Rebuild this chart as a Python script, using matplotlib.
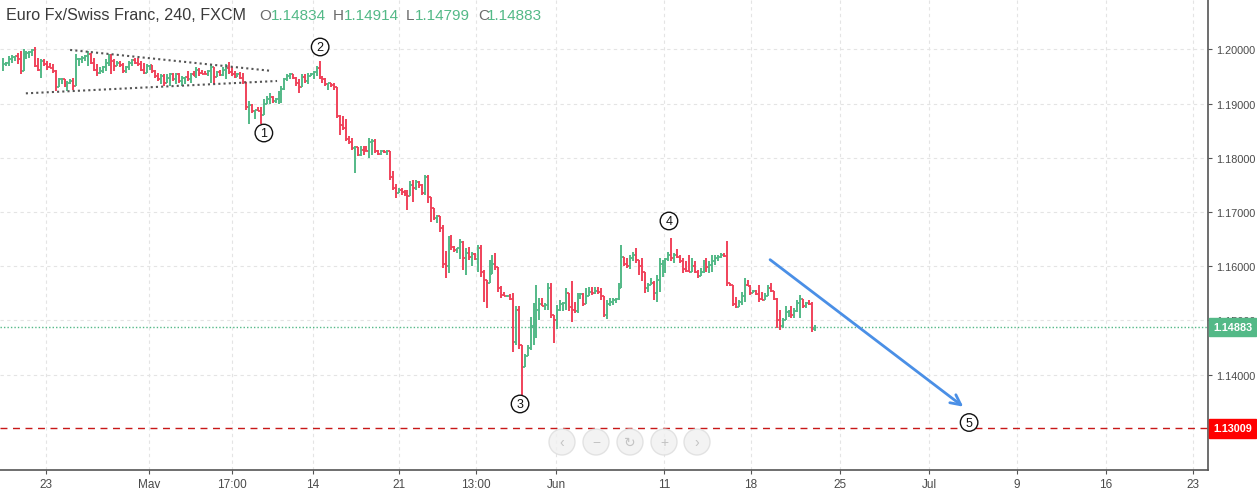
import numpy as np
import matplotlib.pyplot as plt
from matplotlib.patches import Ellipse

# EUR/CHF 4h bars (FXCM)
first_open = 1.1962
highs = [
    1.1985, 1.1977, 1.1988, 1.1989, 1.1988, 1.1994, 1.1997, 1.2000, 1.1997, 1.1997,
    1.2000, 1.2004, 1.1985, 1.1982, 1.1982, 1.1979, 1.1976, 1.1973, 1.1963, 1.1948,
    1.1948, 1.1946, 1.1942, 1.1945, 1.1948, 1.1991, 1.1985, 1.1988, 1.1989, 1.1997,
    1.1994, 1.1985, 1.1973, 1.1967, 1.1970, 1.1982, 1.1991, 1.1991, 1.1982, 1.1979,
    1.1979, 1.1976, 1.1970, 1.1979, 1.1982, 1.1985, 1.1985, 1.1979, 1.1976, 1.1973,
    1.1971, 1.1971, 1.1963, 1.1957, 1.1954, 1.1954, 1.1954, 1.1957, 1.1957, 1.1957,
    1.1957, 1.1951, 1.1950, 1.1960, 1.1957, 1.1960, 1.1967, 1.1965,
    1.1962, 1.1960, 1.1963, 1.1973, 1.1960, 1.1960, 1.1963, 1.1967, 1.1973, 1.1977,
    1.1967, 1.1960, 1.1957, 1.1958, 1.1957, 1.1936, 1.1905, 1.1899, 1.1889, 1.1893,
    1.1893, 1.1908, 1.1914, 1.1920, 1.1914, 1.1911, 1.1923, 1.1933, 1.1948, 1.1955,
    1.1957, 1.1954, 1.1950, 1.1946, 1.1954, 1.1955, 1.1957, 1.1957, 1.1960, 1.1970,
    1.1979, 1.1951, 1.1948, 1.1939, 1.1939, 1.1939, 1.1930, 1.1880, 1.1877, 1.1871,
    1.1840, 1.1837, 1.1822, 1.1809, 1.1822, 1.1822, 1.1822, 1.1837, 1.1834, 1.1834,
    1.1815, 1.1815, 1.1815, 1.1815, 1.1812, 1.1775, 1.1751, 1.1744, 1.1744, 1.1741,
    1.1741, 1.1757,
    1.1760, 1.1760, 1.1757, 1.1751, 1.1769, 1.1769, 1.1728, 1.1706, 1.1695, 1.1692,
    1.1677, 1.1629, 1.1655, 1.1658, 1.1638, 1.1634, 1.1651, 1.1646, 1.1634, 1.1635,
    1.1627, 1.1624, 1.1640, 1.1640, 1.1594, 1.1575, 1.1612, 1.1621, 1.1624, 1.1598,
    1.1563, 1.1553, 1.1547, 1.1549, 1.1550, 1.1526, 1.1527, 1.1455, 1.1439, 1.1455,
    1.1507, 1.1532, 1.1566, 1.1541, 1.1541, 1.1532, 1.1569, 1.1569, 1.1510, 1.1529,
    1.1538, 1.1535, 1.1560, 1.1547, 1.1572, 1.1535, 1.1550, 1.1550, 1.1550, 1.1560,
    1.1561, 1.1561, 1.1561, 1.1561, 1.1560, 1.1545, 1.1538, 1.1541, 1.1542, 1.1541,
    1.1569, 1.1640, 1.1618, 1.1615, 1.1621, 1.1627, 1.1634, 1.1612, 1.1615, 1.1590,
    1.1569, 1.1578, 1.1572, 1.1584, 1.1615, 1.1612, 1.1615, 1.1627, 1.1652, 1.1624,
    1.1631, 1.1621, 1.1615, 1.1609, 1.1621, 1.1615, 1.1609, 1.1594, 1.1597, 1.1612,
    1.1615, 1.1609, 1.1621, 1.1621, 1.1621, 1.1624, 1.1624, 1.1646, 1.1569, 1.1566,
    1.1544, 1.1538, 1.1553, 1.1578, 1.1575, 1.1566, 1.1556, 1.1556, 1.1566, 1.1553,
    1.1550, 1.1566, 1.1569, 1.1555, 1.1541, 1.1520, 1.1504, 1.1526, 1.1520, 1.1526,
    1.1523, 1.1538, 1.1547, 1.1540, 1.1535, 1.1538, 1.1535, 1.14914,
]
lows = [
    1.1960, 1.1970, 1.1970, 1.1975, 1.1979, 1.1973, 1.1954, 1.1963, 1.1982, 1.1985,
    1.1988, 1.1967, 1.1960, 1.1948, 1.1970, 1.1963, 1.1965, 1.1957, 1.1923, 1.1930,
    1.1936, 1.1930, 1.1923, 1.1936, 1.1926, 1.1933, 1.1970, 1.1976, 1.1979, 1.1970,
    1.1973, 1.1960, 1.1951, 1.1954, 1.1957, 1.1960, 1.1970, 1.1954, 1.1960, 1.1970,
    1.1967, 1.1957, 1.1957, 1.1963, 1.1970, 1.1973, 1.1970, 1.1960, 1.1954, 1.1957,
    1.1963, 1.1957, 1.1948, 1.1942, 1.1936, 1.1933, 1.1939, 1.1933, 1.1942, 1.1936,
    1.1939, 1.1933, 1.1936, 1.1942, 1.1939, 1.1951, 1.1948, 1.1951,
    1.1954, 1.1954, 1.1952, 1.1939, 1.1936, 1.1954, 1.1951, 1.1951, 1.1945, 1.1954,
    1.1951, 1.1948, 1.1951, 1.1945, 1.1936, 1.1889, 1.1862, 1.1883, 1.1871, 1.1886,
    1.1862, 1.1880, 1.1899, 1.1899, 1.1902, 1.1902, 1.1899, 1.1902, 1.1926, 1.1942,
    1.1945, 1.1945, 1.1933, 1.1920, 1.1939, 1.1939, 1.1936, 1.1951, 1.1945, 1.1951,
    1.1945, 1.1939, 1.1933, 1.1926, 1.1930, 1.1926, 1.1874, 1.1843, 1.1852, 1.1831,
    1.1825, 1.1815, 1.1772, 1.1803, 1.1803, 1.1806, 1.1812, 1.1800, 1.1806, 1.1809,
    1.1806, 1.1806, 1.1809, 1.1806, 1.1760, 1.1741, 1.1726, 1.1735, 1.1732, 1.1729,
    1.1704, 1.1729,
    1.1718, 1.1741, 1.1745, 1.1732, 1.1732, 1.1717, 1.1681, 1.1685, 1.1680, 1.1664,
    1.1597, 1.1578, 1.1588, 1.1630, 1.1627, 1.1624, 1.1613, 1.1594, 1.1584, 1.1612,
    1.1601, 1.1612, 1.1590, 1.1581, 1.1535, 1.1523, 1.1570, 1.1585, 1.1594, 1.1553,
    1.1541, 1.1545, 1.1543, 1.1538, 1.1442, 1.1455, 1.1448, 1.1362, 1.1415, 1.1435,
    1.1445, 1.1455, 1.1467, 1.1501, 1.1526, 1.1520, 1.1520, 1.1504, 1.1459, 1.1485,
    1.1517, 1.1517, 1.1520, 1.1517, 1.1498, 1.1514, 1.1514, 1.1539, 1.1527, 1.1532,
    1.1550, 1.1547, 1.1549, 1.1549, 1.1538, 1.1507, 1.1502, 1.1526, 1.1529, 1.1532,
    1.1537, 1.1560, 1.1600, 1.1597, 1.1595, 1.1609, 1.1606, 1.1584, 1.1572, 1.1550,
    1.1553, 1.1566, 1.1538, 1.1535, 1.1553, 1.1581, 1.1587, 1.1609, 1.1609, 1.1606,
    1.1615, 1.1606, 1.1587, 1.1590, 1.1590, 1.1590, 1.1587, 1.1578, 1.1582, 1.1587,
    1.1590, 1.1587, 1.1590, 1.1603, 1.1609, 1.1615, 1.1618, 1.1563, 1.1563, 1.1526,
    1.1523, 1.1525, 1.1529, 1.1535, 1.1563, 1.1547, 1.1550, 1.1547, 1.1535, 1.1537,
    1.1538, 1.1545, 1.1553, 1.1538, 1.1486, 1.1482, 1.1486, 1.1500, 1.1507, 1.1504,
    1.1504, 1.1516, 1.1504, 1.1523, 1.1523, 1.1529, 1.1479, 1.14799,
]
closes = [
    1.1973, 1.1976, 1.1983, 1.1987, 1.1988, 1.1982, 1.1960, 1.1991, 1.1994, 1.1996,
    1.1999, 1.1970, 1.1963, 1.1979, 1.1973, 1.1967, 1.1965, 1.1960, 1.1930, 1.1945,
    1.1946, 1.1933, 1.1939, 1.1942, 1.1933, 1.1982, 1.1983, 1.1985, 1.1988, 1.1991,
    1.1976, 1.1963, 1.1957, 1.1960, 1.1967, 1.1976, 1.1985, 1.1979, 1.1970, 1.1976,
    1.1971, 1.1960, 1.1967, 1.1975, 1.1981, 1.1976, 1.1973, 1.1963, 1.1957, 1.1970,
    1.1971, 1.1960, 1.1951, 1.1945, 1.1951, 1.1939, 1.1948, 1.1954, 1.1945, 1.1954,
    1.1942, 1.1948, 1.1949, 1.1945, 1.1954, 1.1952, 1.1963, 1.1957,
    1.1955, 1.1954, 1.1960, 1.1967, 1.1950, 1.1958, 1.1953, 1.1962, 1.1966, 1.1958,
    1.1954, 1.1950, 1.1955, 1.1948, 1.1940, 1.1893, 1.1898, 1.1886, 1.1888, 1.1887,
    1.1880, 1.1900, 1.1908, 1.1912, 1.1905, 1.1909, 1.1917, 1.1928, 1.1945, 1.1952,
    1.1954, 1.1948, 1.1938, 1.1930, 1.1950, 1.1942, 1.1952, 1.1955, 1.1958, 1.1966,
    1.1950, 1.1945, 1.1936, 1.1938, 1.1934, 1.1930, 1.1878, 1.1860, 1.1855, 1.1835,
    1.1830, 1.1818, 1.1820, 1.1805, 1.1815, 1.1813, 1.1812, 1.1830, 1.1832, 1.1812,
    1.1808, 1.1813, 1.1810, 1.1813, 1.1765, 1.1745, 1.1735, 1.1741, 1.1738, 1.1733,
    1.1730, 1.1750,
    1.1745, 1.1755, 1.1750, 1.1735, 1.1765, 1.1728, 1.1708, 1.1690, 1.1693, 1.1670,
    1.1605, 1.1600, 1.1640, 1.1636, 1.1630, 1.1633, 1.1645, 1.1615, 1.1625, 1.1618,
    1.1622, 1.1614, 1.1634, 1.1590, 1.1575, 1.1570, 1.1585, 1.1605, 1.1598, 1.1560,
    1.1547, 1.1545, 1.1546, 1.1540, 1.1460, 1.1520, 1.1455, 1.1415, 1.1435, 1.1450,
    1.1490, 1.1500, 1.1520, 1.1530, 1.1527, 1.1529, 1.1560, 1.1510, 1.1500, 1.1520,
    1.1530, 1.1532, 1.1550, 1.1525, 1.1520, 1.1517, 1.1545, 1.1548, 1.1530, 1.1545,
    1.1552, 1.1550, 1.1555, 1.1552, 1.1545, 1.1510, 1.1530, 1.1535, 1.1538, 1.1540,
    1.1560, 1.1618, 1.1605, 1.1600, 1.1615, 1.1620, 1.1612, 1.1600, 1.1590, 1.1560,
    1.1565, 1.1570, 1.1550, 1.1575, 1.1605, 1.1608, 1.1613, 1.1620, 1.1615, 1.1621,
    1.1618, 1.1610, 1.1595, 1.1592, 1.1590, 1.1600, 1.1590, 1.1582, 1.1590, 1.1605,
    1.1598, 1.1603, 1.1610, 1.1615, 1.1618, 1.1621, 1.1619, 1.1570, 1.1565, 1.1530,
    1.1525, 1.1535, 1.1545, 1.1565, 1.1564, 1.1550, 1.1555, 1.1549, 1.1540, 1.1538,
    1.1545, 1.1560, 1.1555, 1.1540, 1.1500, 1.1490, 1.1500, 1.1515, 1.1518, 1.1510,
    1.1518, 1.1532, 1.1540, 1.1526, 1.1532, 1.1530, 1.14834, 1.14883,
]

# axis labels (bar index of each date label)
xtick_pos = [14.7, 49.8, 78.1, 105.8, 135.1, 161.4, 188.7, 225.5, 255.2, 285.6, 315.9, 346.0, 376.3, 406.0]
xtick_lab = ['23', 'May', '17:00', '14', '21', '13:00', 'Jun', '11', '18', '25', 'Jul', '9', '16', '23']
yticks = [1.14, 1.15, 1.16, 1.17, 1.18, 1.19, 1.20]

last_price = 1.14883
target_price = 1.13009
# drawings: triangle, wave labels, projection arrow
tri_upper = ([22.9, 91.8], [1.19992, 1.19604])
tri_lower = ([7.8, 93.5], [1.19191, 1.19419])
wave_lab = ['1', '2', '3', '4', '5']
wave_x = [89.0, 108.2, 176.4, 227.2, 329.6]
wave_y = [1.18459, 1.20046, 1.13460, 1.16836, 1.13118]
arrow_start = (261.7, 1.16122)
arrow_end = (327.6, 1.13410)

GREEN = '#53b987'
RED = '#f0425a'
TXT = '#4a4a4a'

W, H = 1257, 489
fig = plt.figure(figsize=(W / 100, H / 100), dpi=100)
plt.rcParams['font.family'] = ['Liberation Sans', 'DejaVu Sans']
ax = fig.add_axes([0, 18 / H, 1208 / W, 471 / H])

closes = np.array(closes)
opens = np.r_[first_open, closes[:-1]]
x = np.arange(len(closes))
cols = np.where(closes >= opens, GREEN, RED)
lo = np.minimum(lows, opens)
hi = np.maximum(highs, opens)
ax.vlines(x, lo, hi, colors=cols, lw=1.4, zorder=3)
ax.hlines(opens, x - 0.5, x, colors=cols, lw=1.3, zorder=3)
ax.hlines(closes, x, x + 0.5, colors=cols, lw=1.3, zorder=3)

ax.set_xlim(-1.02, 411.1)
ax.set_ylim(1.122417, 1.209317)

ax.set_axisbelow(True)
ax.grid(True, color='#e4e4e4', ls=(0, (3, 3)), lw=0.8)
ax.set_xticks(xtick_pos, xtick_lab)
ax.yaxis.tick_right()
ax.set_yticks(yticks, ['%.5f' % v for v in yticks])
ax.tick_params(axis='y', length=3, pad=3, labelsize=7.8, colors=TXT, color='#555555')
ax.tick_params(axis='x', length=3, pad=3, labelsize=8.5, colors=TXT, color='#555555')
for s in ['top', 'left']:
    ax.spines[s].set_visible(False)
for s in ['right', 'bottom']:
    ax.spines[s].set_color('#555555')
    ax.spines[s].set_linewidth(1.2)

# triangle
ax.plot(*tri_upper, color='#555555', lw=1.5, ls=(0, (1, 1.5)), zorder=4)
ax.plot(*tri_lower, color='#555555', lw=1.5, ls=(0, (1, 1.5)), zorder=4)

# price lines
ax.axhline(last_price, color=GREEN, lw=1, ls=(0, (1, 1.5)), zorder=2)
ax.axhline(target_price, color='#c81818', lw=1, ls=(0, (5, 4)), zorder=2)

# wave labels
for lab, wx, wy in zip(wave_lab, wave_x, wave_y):
    ax.text(wx, wy, lab, ha='center', va='center', fontsize=9, color='#111111', zorder=6,
            bbox=dict(boxstyle='circle,pad=0.22', fc='white', ec='#111111', lw=1))

# projection arrow
ax.annotate('', xy=arrow_end, xytext=arrow_start,
            arrowprops=dict(arrowstyle='->', color='#4a8fe6', lw=2, mutation_scale=18,
                            shrinkA=0, shrinkB=0), zorder=5)

# price boxes on the scale
for p, c in [(last_price, GREEN), (target_price, '#ff0000')]:
    ax.annotate('%.5f' % p, xy=(1.0, p), xycoords=('axes fraction', 'data'),
                xytext=(5, 0), textcoords='offset pixels', ha='left', va='center',
                fontsize=7.8, fontweight='bold', color='white', zorder=10, annotation_clip=False,
                bbox=dict(boxstyle='square,pad=0.4', fc=c, ec=c))

# header
fig.text(6 / W, 1 - 16 / H, 'Euro Fx/Swiss Franc, 240, FXCM', fontsize=11.6, color='#3a3a3a', va='center')
ohlc = [('O', 259, '1.14834', 271), ('H', 333, '1.14914', 344),
        ('L', 406, '1.14799', 415), ('C', 478, '1.14883', 487)]
for k, kx, v, vx in ohlc:
    fig.text(kx / W, 1 - 16 / H, k, fontsize=11, color='#6b6b6b', va='center')
    fig.text(vx / W, 1 - 16 / H, v, fontsize=11, color=GREEN, va='center')

# navigation buttons
for bx, sym in zip([562, 596, 630, 664, 697], ['‹', '−', '↻', '+', '›']):
    fig.add_artist(Ellipse((bx / W, 1 - 443 / H), 26 / W, 26 / H, fc='#f0f0f0', ec='#dddddd',
                           lw=1, alpha=0.8, zorder=8))
    fig.text(bx / W, 1 - 443 / H, sym, ha='center', va='center', fontsize=10, color='#c4c4c4', zorder=9)

fig.savefig('out.png', dpi=100, facecolor='white')
